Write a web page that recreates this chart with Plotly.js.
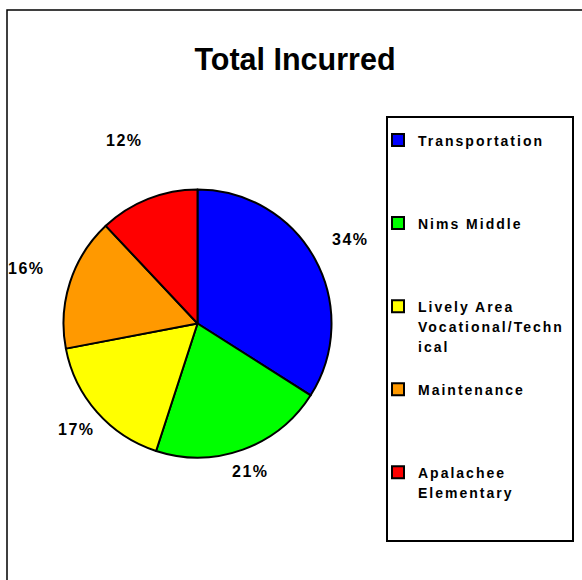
<!DOCTYPE html>
<html>
<head>
<meta charset="utf-8">
<script src="https://cdn.plot.ly/plotly-3.0.1.min.js"></script>
<style>
  html, body { margin: 0; padding: 0; background: #ffffff; }
  #chart { width: 582px; height: 580px; }
  .legendtext { letter-spacing: 2px; }
  .annotation-text { letter-spacing: 1.5px; }
</style>
</head>
<body>
<div id="chart"></div>
<script>
// ---- data ----
var categories = ['Transportation', 'Nims Middle', 'Lively Area<br>Vocational/Techn<br>ical', 'Maintenance', 'Apalachee<br>Elementary'];
var values = [34, 21, 17, 16, 12];
var sliceColors = ['#0000FF', '#00FF00', '#FFFF00', '#FF9900', '#FF0000'];
var chartTitle = 'Total Incurred';

// ---- layout constants ----
var W = 582, H = 580;
var pieCx = 197.5, pieCy = 323.5, pieR = 134;
// radial distance of each percentage label, as a multiple of the pie radius
var labelRadiusFactor = [1.30, 1.17, 1.20, 1.34, 1.47];
var legendLinesPerItem = 4;

// legend labels: visible text at 14px, padded to a fixed number of lines
var legendLabels = categories.map(function (c) {
  var lines = c.split('<br>').map(function (l) {
    return '<span style="font-size:14px">' + l + '</span>';
  });
  while (lines.length < legendLinesPerItem) lines.push('\u00a0');
  return lines.join('<br>');
});

var total = values.reduce(function (a, b) { return a + b; }, 0);

// percentage labels placed radially around the pie, at each slice's mid-angle
var annotations = [];
var cum = 0;
values.forEach(function (v, i) {
  var mid = (cum + v / 2) / total * 2 * Math.PI;
  cum += v;
  var rr = labelRadiusFactor[i] * pieR;
  var px = pieCx + rr * Math.sin(mid);
  var py = pieCy - rr * Math.cos(mid);
  annotations.push({
    xref: 'paper', yref: 'paper',
    x: px / W, y: 1 - py / H,
    xanchor: 'center', yanchor: 'middle',
    text: Math.round(v / total * 100) + '%',
    showarrow: false,
    font: { family: 'Liberation Sans, Arial, sans-serif', size: 16, color: '#000', weight: 'bold' }
  });
});

var trace = {
  type: 'pie',
  labels: legendLabels,
  values: values,
  sort: false,
  direction: 'clockwise',
  rotation: 0,
  textinfo: 'none',
  hoverinfo: 'none',
  marker: { colors: sliceColors, line: { color: '#000000', width: 2 } },
  domain: {
    x: [(pieCx - pieR) / W, (pieCx + pieR) / W],
    y: [1 - (pieCy + pieR) / H, 1 - (pieCy - pieR) / H]
  }
};

var layout = {
  width: W, height: H,
  margin: { l: 0, r: 0, t: 0, b: 0 },
  paper_bgcolor: '#ffffff',
  plot_bgcolor: '#ffffff',
  title: {
    text: chartTitle,
    x: 295 / W, xanchor: 'center', xref: 'paper',
    y: 1 - 59 / H, yanchor: 'middle', yref: 'container',
    font: { family: 'Liberation Sans, Arial, sans-serif', size: 30.5, color: '#000', weight: 'bold' }
  },
  showlegend: true,
  legend: {
    x: (398 - 20) / W, xanchor: 'left',
    y: 1 - 123.5 / H, yanchor: 'top',
    bgcolor: 'rgba(0,0,0,0)', borderwidth: 0,
    valign: 'top',
    font: { family: 'Liberation Sans, Arial, sans-serif', size: 15.4, color: '#000', weight: 'bold' }
  },
  shapes: [
    { type: 'rect', xref: 'paper', yref: 'paper', x0: 7 / W, x1: 1.05, y0: -0.05, y1: 1 - 10 / H,
      line: { color: '#000', width: 1.5 }, fillcolor: 'rgba(0,0,0,0)', layer: 'below' },
    { type: 'rect', xref: 'paper', yref: 'paper', x0: 387 / W, x1: 573 / W, y0: 1 - 541 / H, y1: 1 - 117 / H,
      line: { color: '#000', width: 2 }, fillcolor: '#ffffff', layer: 'below' }
  ],
  annotations: annotations
};

Plotly.newPlot('chart', [trace], layout, { staticPlot: true, displayModeBar: false });
</script>
</body>
</html>
